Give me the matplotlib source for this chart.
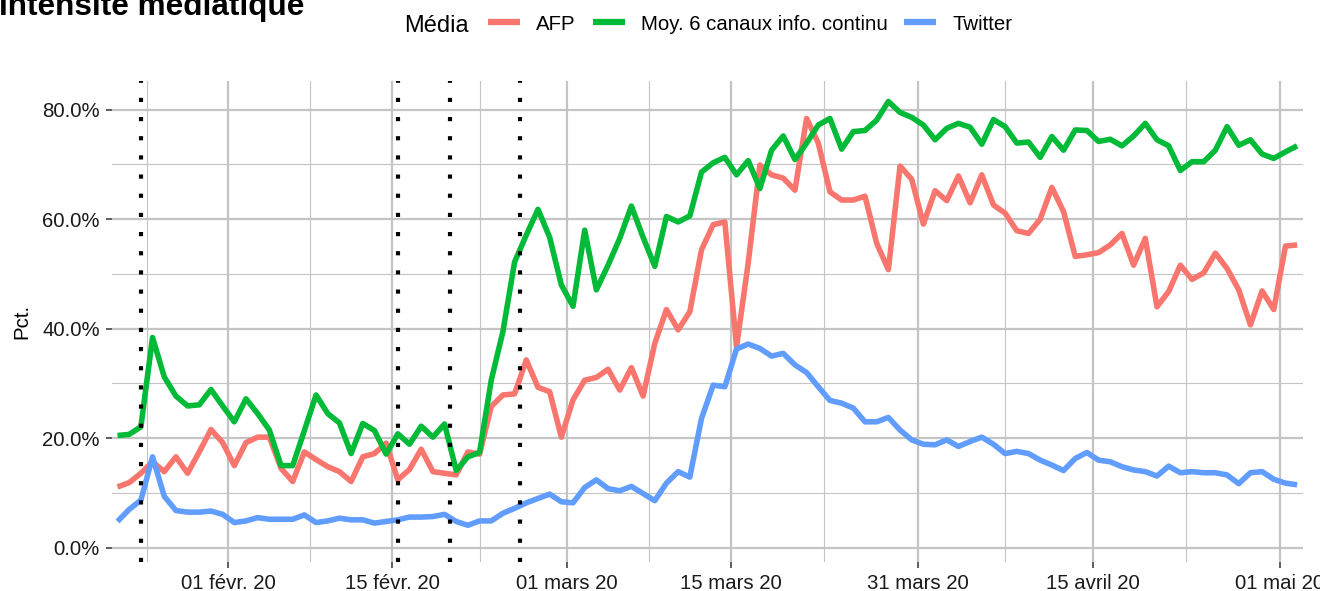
import matplotlib
matplotlib.use("Agg")
import matplotlib.pyplot as plt
import matplotlib.dates as mdates
from matplotlib.lines import Line2D
import pandas as pd

plt.rcParams['font.family'] = ['Liberation Sans', 'DejaVu Sans']

# daily series, 22 Jan 2020 -> 2 May 2020 (values in %)
afp = [11.1, 11.9, 13.6, 15.7, 13.9, 16.6, 13.6, 17.5, 21.6, 19.2,
       15.0, 19.2, 20.2, 20.2, 14.5, 12.1, 17.5, 16.1, 14.8, 13.9,
       12.1, 16.6, 17.2, 19.1, 12.4, 14.3, 18.0, 13.9, 13.6, 13.3,
       17.5, 17.1, 25.8, 27.9, 28.1, 34.3, 29.3, 28.5, 20.2, 27.0,
       30.6, 31.1, 32.6, 28.8, 32.9, 27.7, 37.3, 43.5, 39.8, 43.1,
       54.4, 59.0, 59.5, 36.7, 52.0, 69.9, 68.1, 67.5, 65.3, 78.4,
       73.9, 65.0, 63.5, 63.5, 64.2, 55.6, 50.8, 69.7, 67.3, 59.1,
       65.2, 63.4, 67.9, 63.0, 68.1, 62.6, 61.1, 57.9, 57.4, 60.0,
       65.8, 61.4, 53.2, 53.5, 53.9, 55.3, 57.4, 51.6, 56.5, 44.0,
       46.8, 51.6, 49.0, 50.2, 53.8, 51.0, 47.1, 40.7, 46.9, 43.5,
       55.1, 55.3]
moy_tv = [20.5, 20.7, 22.1, 38.4, 31.2, 27.7, 25.9, 26.1, 28.9, 25.9,
          23.0, 27.2, 24.5, 21.5, 15.0, 15.0, 21.4, 27.9, 24.5, 22.8,
          17.2, 22.7, 21.4, 17.1, 20.8, 18.9, 22.2, 20.2, 22.6, 14.1,
          16.6, 17.4, 30.6, 39.5, 52.2, 57.1, 61.8, 56.7, 48.0, 44.1,
          58.0, 47.1, 51.6, 56.5, 62.4, 56.7, 51.4, 60.5, 59.5, 60.6,
          68.6, 70.3, 71.3, 68.1, 70.7, 65.6, 72.6, 75.2, 70.9, 73.9,
          77.2, 78.4, 72.8, 76.0, 76.2, 78.1, 81.5, 79.5, 78.6, 77.2,
          74.5, 76.6, 77.5, 76.8, 73.7, 78.2, 76.9, 73.9, 74.1, 71.3,
          75.1, 72.6, 76.3, 76.2, 74.2, 74.6, 73.4, 75.2, 77.5, 74.5,
          73.4, 68.9, 70.5, 70.5, 72.6, 76.9, 73.5, 74.5, 71.9, 71.1,
          72.3, 73.4]
twitter = [4.8, 7.0, 8.7, 16.6, 9.4, 6.8, 6.5, 6.5, 6.7, 6.1,
           4.6, 4.9, 5.5, 5.2, 5.2, 5.2, 6.0, 4.6, 4.9, 5.4,
           5.1, 5.1, 4.5, 4.8, 5.1, 5.6, 5.6, 5.7, 6.1, 4.8,
           4.1, 4.9, 4.9, 6.3, 7.2, 8.2, 9.0, 9.8, 8.4, 8.2,
           11.0, 12.4, 10.8, 10.4, 11.2, 9.9, 8.6, 11.8, 13.9, 12.9,
           23.6, 29.7, 29.4, 36.3, 37.2, 36.4, 35.0, 35.5, 33.4, 32.0,
           29.4, 26.9, 26.4, 25.5, 23.0, 23.0, 23.8, 21.5, 19.7, 18.9,
           18.8, 19.7, 18.5, 19.4, 20.2, 18.9, 17.2, 17.6, 17.2, 16.0,
           15.1, 14.1, 16.3, 17.4, 16.0, 15.7, 14.8, 14.2, 13.9, 13.1,
           14.9, 13.7, 13.9, 13.7, 13.7, 13.3, 11.7, 13.7, 13.9, 12.5,
           11.8, 11.5]

dates = pd.date_range("2020-01-22 12:00", "2020-05-02 12:00", freq="D")

series_names = ["AFP", "Moy. 6 canaux info. continu", "Twitter"]
series_colors = ["#F8766D", "#00BA38", "#619CFF"]

events = pd.to_datetime(["2020-01-24 12:00", "2020-02-15 12:00",
                         "2020-02-20 00:00", "2020-02-26 00:00"])

x_breaks = pd.to_datetime(["2020-02-01", "2020-02-15", "2020-03-01", "2020-03-15",
                           "2020-03-31", "2020-04-15", "2020-05-01"])
x_labels = ["01 févr. 20", "15 févr. 20", "01 mars 20", "15 mars 20",
            "31 mars 20", "15 avril 20", "01 mai 20"]
y_breaks = [0, 20, 40, 60, 80]
y_minor = [10, 30, 50, 70]

fig = plt.figure(figsize=(13.2, 5.91), dpi=100)
ax = fig.add_axes([0.0846, 0.0491, 0.9025, 0.8144])

for vals, col in zip([afp, moy_tv, twitter], series_colors):
    ax.plot(dates, vals, color=col, lw=4.0, solid_capstyle='butt',
            solid_joinstyle='round', zorder=3)

for ev in events:
    ax.axvline(ev, color='black', lw=3.0, linestyle=(0, (1, 3.6)), zorder=4)

# axes / grid
ax.set_xlim(pd.Timestamp("2020-01-22"), pd.Timestamp("2020-05-03"))
ax.set_ylim(-2.6, 85.3)

xb = mdates.date2num(x_breaks)
x_minor = [xb[0] - (xb[1] - xb[0]) / 2] + [(a + b) / 2 for a, b in zip(xb[:-1], xb[1:])]
ax.set_xticks(xb)
ax.set_xticklabels(x_labels)
ax.set_xticks(x_minor, minor=True)
ax.set_yticks(y_breaks)
ax.set_yticklabels([f"{v:.1f}%" for v in y_breaks])
ax.set_yticks(y_minor, minor=True)

ax.grid(which='major', color='#C4C4C4', lw=1.6, zorder=0)
ax.grid(which='minor', color='#C4C4C4', lw=0.8, zorder=0)
ax.set_axisbelow(True)
for s in ax.spines.values():
    s.set_visible(False)

ax.tick_params(which='major', length=4, width=1.1, color='#333333',
               labelsize=14.7, labelcolor='#1a1a1a', pad=4.5)
ax.tick_params(which='minor', length=0)

fig.text(22 / 1320, 0.0491 + 0.8144 / 2, "Pct.", rotation=90, fontsize=14.7,
         ha='center', va='center', color='black')

# title (partially cut at the top, as in the source)
fig.text(-0.001, 1 - 15 / 591, "Intensité médiatique", fontsize=22.7,
         fontweight='bold', va='baseline', ha='left')

# legend
fig.text(404 / 1320, 1 - 32 / 591, "Média", fontsize=17, va='baseline', ha='left')
handles = [Line2D([], [], color=c, lw=4.5, solid_capstyle='butt') for c in series_colors]
fig.legend(handles, series_names, loc='center left',
           bbox_to_anchor=(488 / 1320, 1 - 24 / 591), ncol=3, frameon=False,
           fontsize=14.7, handlelength=1.57, handletextpad=0.78,
           columnspacing=0.83, borderpad=0, borderaxespad=0)

fig.savefig("out.png", dpi=100)
